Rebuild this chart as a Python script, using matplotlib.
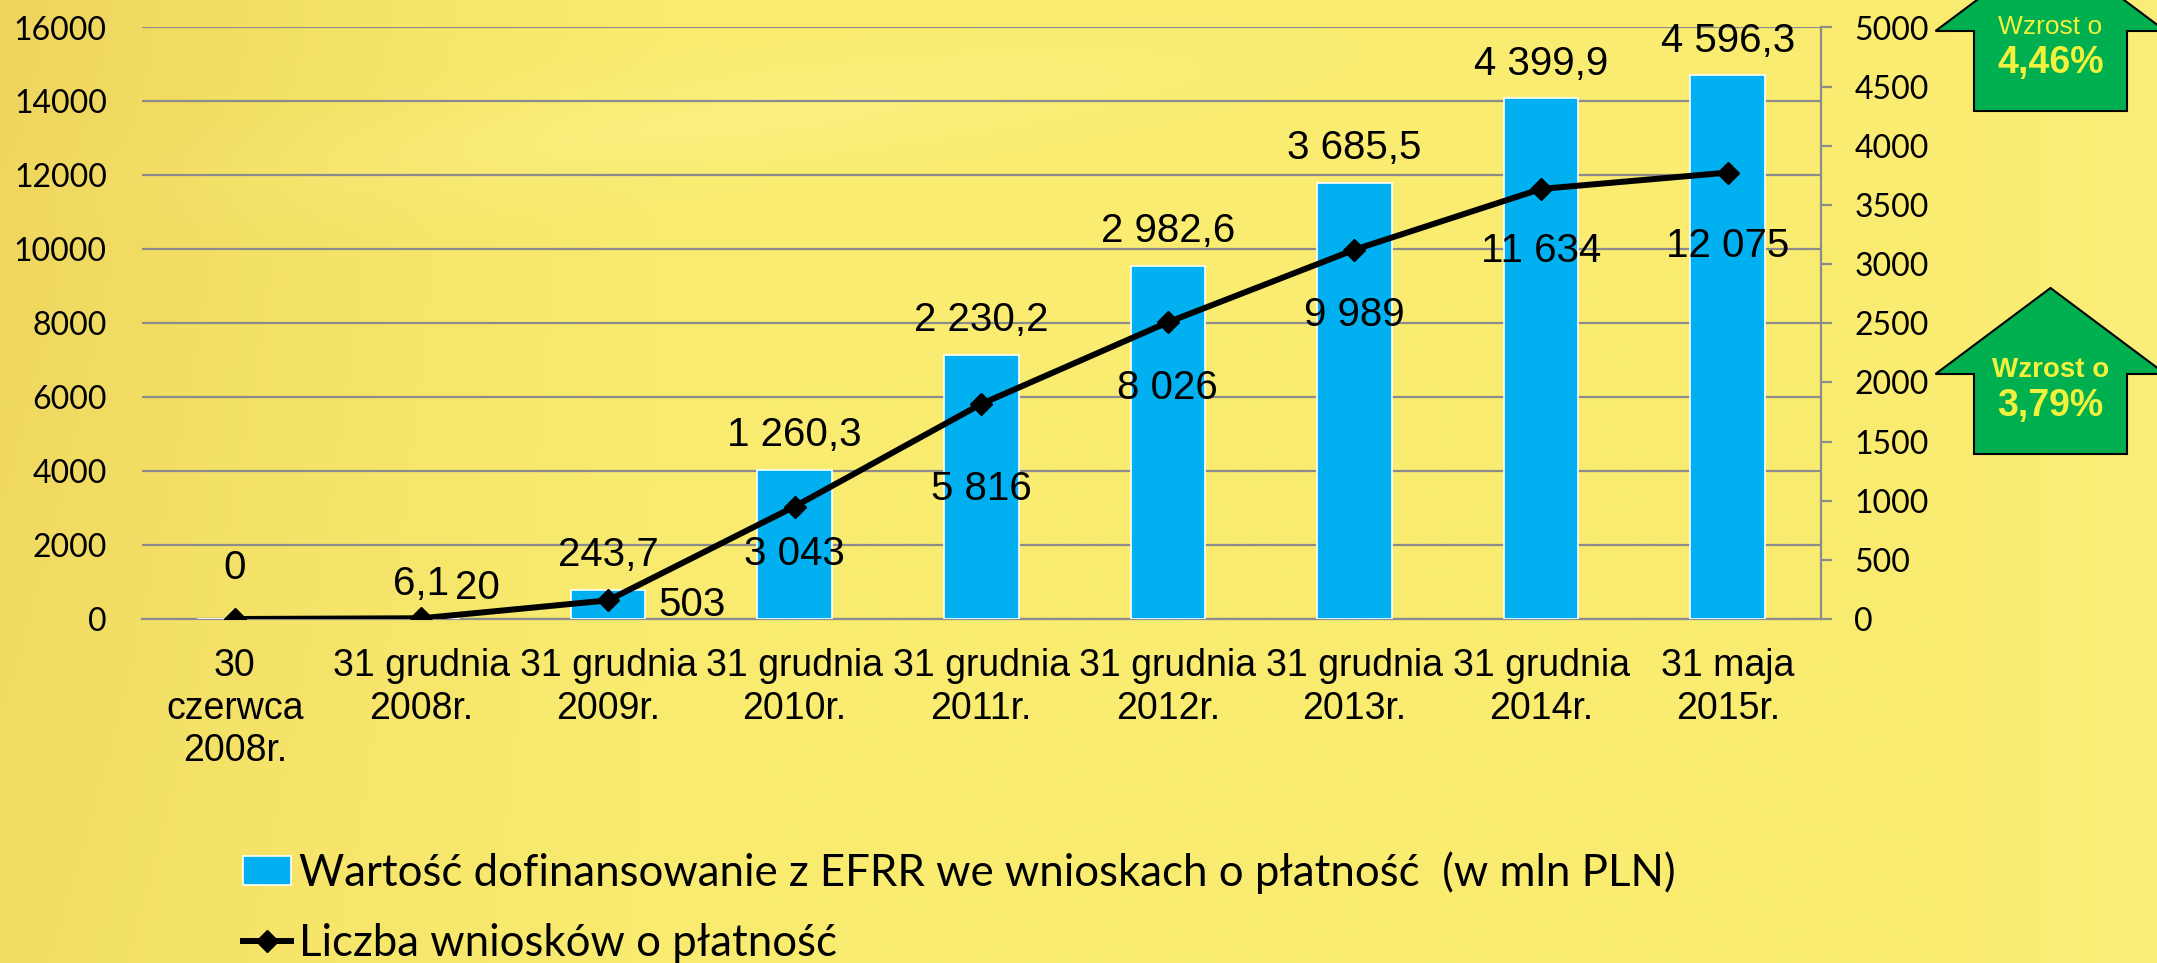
import numpy as np
import matplotlib
matplotlib.use("Agg")
import matplotlib.pyplot as plt
from matplotlib.patches import Patch, Polygon
from matplotlib.lines import Line2D

# ---------------- data ----------------
categories = ["30\nczerwca\n2008r.", "31 grudnia\n2008r.", "31 grudnia\n2009r.",
              "31 grudnia\n2010r.", "31 grudnia\n2011r.", "31 grudnia\n2012r.",
              "31 grudnia\n2013r.", "31 grudnia\n2014r.", "31 maja\n2015r."]
bar_values = [0, 6.1, 243.7, 1260.3, 2230.2, 2982.6, 3685.5, 4399.9, 4596.3]
bar_labels = ["0", "6,1", "243,7", "1 260,3", "2 230,2", "2 982,6", "3 685,5", "4 399,9", "4 596,3"]
line_values = [0, 20, 503, 3043, 5816, 8026, 9989, 11634, 12075]
line_labels = [None, "20", "503", "3 043", "5 816", "8 026", "9 989", "11 634", "12 075"]
left_ticks = [0, 2000, 4000, 6000, 8000, 10000, 12000, 14000, 16000]
right_ticks = [0, 500, 1000, 1500, 2000, 2500, 3000, 3500, 4000, 4500, 5000]
bar_series_name = "Wartość dofinansowanie z EFRR we wnioskach o płatność  (w mln PLN)"
line_series_name = "Liczba wniosków o płatność"
arrow_texts = [("Wzrost o", "4,46%"), ("Wzrost o", "3,79%")]

# ---------------- style ----------------
W, H = 2157, 963
DPI = 100
BAR_COLOR = "#00B0F0"
GRID_COLOR = "#8C8C8C"
ARIAL = "Liberation Sans"
CALIBRI = "Lato"
LABEL_SIZE = 29
# label offsets (points)
bar_label_dy = [37, 25, 25, 25, 25, 25, 25, 25, 25]
line_label_offsets = [(0, 0, "center"), (24, 22, "left"), (36, -3, "left"), (0, -34, "center"),
                      (0, -61, "center"), (0, -47, "center"), (0, -47, "center"),
                      (0, -45, "center"), (0, -53, "center")]

fig = plt.figure(figsize=(W / DPI, H / DPI), dpi=DPI)

# background gradient
bg = fig.add_axes([0, 0, 1, 1], zorder=-10)
xx = np.linspace(0, 1, 400)[None, :]
yy = np.linspace(0, 1, 200)[:, None]
base = np.array([249, 236, 112]) / 255.0
dark = np.array([238, 212, 92]) / 255.0
light = np.array([252, 242, 140]) / 255.0
t_dark = np.clip(1 - xx / 0.35, 0, 1) ** 1.5 * (0.6 + 0.4 * (1 - yy))
band = np.exp(-((yy - (0.12 - 0.25 * (xx - 0.35))) / 0.05) ** 2) * np.exp(-((xx - 0.35) / 0.2) ** 2) * 0.5
streak = np.clip((xx - 0.9) / 0.1, 0, 1) * 0.5 * (0.6 + 0.4 * np.sin(xx * 120) ** 2)
img = base[None, None, :] * np.ones((200, 400, 1))
img = img * (1 - t_dark[..., None]) + dark[None, None, :] * t_dark[..., None]
mix = np.clip(band + streak, 0, 1)[..., None]
img = img * (1 - mix) + light[None, None, :] * mix
bg.imshow(img, extent=[0, W, H, 0], aspect="auto", interpolation="bicubic")
bg.set_xlim(0, W)
bg.set_ylim(H, 0)
bg.axis("off")

# green arrows (pixel coords on background axes)
def up_arrow(ax, cx, top_apex, head_base, bottom, shaft_half, wing_half):
    pts = [(cx - shaft_half, bottom), (cx + shaft_half, bottom), (cx + shaft_half, head_base),
           (cx + wing_half, head_base), (cx, top_apex), (cx - wing_half, head_base),
           (cx - shaft_half, head_base)]
    ax.add_patch(Polygon(pts, closed=True, facecolor="#00B050", edgecolor="black", lw=1.5, zorder=2))

up_arrow(bg, 2050.5, -55, 31, 111, 76.5, 115)
up_arrow(bg, 2050.5, 288, 374, 454, 76.5, 115)
TXT_Y = "#F2F23C"
bg.text(2050.5, 27, arrow_texts[0][0], color=TXT_Y, fontsize=19, family=ARIAL,
        ha="center", va="center", zorder=3)
bg.text(2050.5, 63, arrow_texts[0][1], color=TXT_Y, fontsize=27, family=ARIAL,
        fontweight="bold", ha="center", va="center", zorder=3)
bg.text(2050.5, 370, arrow_texts[1][0], color=TXT_Y, fontsize=20, family=ARIAL,
        fontweight="bold", ha="center", va="center", zorder=3)
bg.text(2050.5, 406, arrow_texts[1][1], color=TXT_Y, fontsize=27, family=ARIAL,
        fontweight="bold", ha="center", va="center", zorder=3)

# plot axes
x0, x1 = 141.5 / W, 1821 / W
y0, y1 = 1 - 619 / H, 1 - 27.5 / H
rect = [x0, y0, x1 - x0, y1 - y0]
x = np.arange(len(categories))

ax_left = fig.add_axes(rect, zorder=1)
ax_left.patch.set_visible(False)
ax_left.set_xlim(-0.5, len(categories) - 0.5)
ax_left.set_ylim(0, 16000)
ax_left.set_yticks(left_ticks)
ax_left.set_yticklabels([str(v) for v in left_ticks], family=CALIBRI, fontsize=23)
ax_left.yaxis.grid(True, color=GRID_COLOR, lw=1.6)
ax_left.set_axisbelow(True)
for s in ["top", "right", "left"]:
    ax_left.spines[s].set_visible(False)
ax_left.spines["bottom"].set_color(GRID_COLOR)
ax_left.spines["bottom"].set_linewidth(1.6)
ax_left.tick_params(axis="y", length=0, pad=25)
ax_left.set_xticks(x)
ax_left.set_xticklabels(categories, family=ARIAL, fontsize=27, linespacing=1.23)
ax_left.tick_params(axis="x", length=0, pad=21)

ax_bar = ax_left.twinx()
ax_bar.set_zorder(2)
ax_bar.patch.set_visible(False)
ax_bar.set_ylim(0, 5000)
ax_bar.bar(x, bar_values, width=0.4, color=BAR_COLOR, edgecolor="white", lw=1.2)
ax_bar.set_yticks(right_ticks)
ax_bar.set_yticklabels([str(v) for v in right_ticks], family=CALIBRI, fontsize=23)
ax_bar.tick_params(axis="y", direction="out", length=8, width=1.6, color=GRID_COLOR, pad=16)
for s in ["top", "left", "bottom"]:
    ax_bar.spines[s].set_visible(False)
ax_bar.spines["right"].set_color(GRID_COLOR)
ax_bar.spines["right"].set_linewidth(1.6)
for xi, v, lab, dy in zip(x, bar_values, bar_labels, bar_label_dy):
    ax_bar.annotate(lab, (xi, v), xytext=(0, dy), textcoords="offset points",
                    ha="center", va="center", fontsize=LABEL_SIZE, family=ARIAL, color="black")

ax_line = fig.add_axes(rect, zorder=3, sharex=ax_left, sharey=ax_left)
ax_line.patch.set_visible(False)
ax_line.axis("off")
ax_line.plot(x, line_values, color="black", lw=4.3, marker="D", markersize=11, zorder=5)
for xi, v, lab, (dx, dy, ha) in zip(x, line_values, line_labels, line_label_offsets):
    if lab is None:
        continue
    ax_line.annotate(lab, (xi, v), xytext=(dx, dy), textcoords="offset points",
                     ha=ha, va="center", fontsize=LABEL_SIZE, family=ARIAL, color="black")

# legend
handles = [Patch(facecolor=BAR_COLOR, edgecolor="white", lw=1.2),
           Line2D([0], [0], color="black", lw=4.3, marker="D", markersize=11)]
leg = fig.legend(handles, [bar_series_name, line_series_name], loc="upper left",
                 bbox_to_anchor=(243 / W, 1 - 851 / H), frameon=False,
                 prop={"family": CALIBRI, "size": 31.5}, handlelength=1.1, handleheight=0.66,
                 handletextpad=0.18, labelspacing=0.68, borderpad=0, borderaxespad=0)

fig.savefig("out.png", dpi=DPI)
